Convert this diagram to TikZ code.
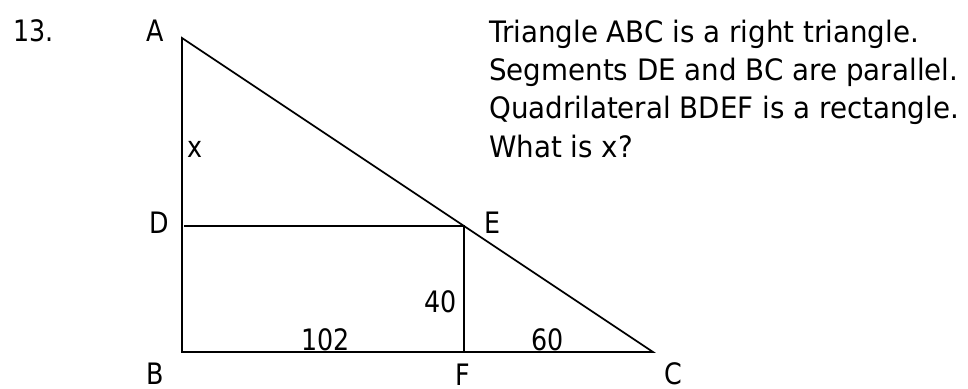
\documentclass[tikz,border=0pt]{standalone}
\usepackage{fontspec}
\setmainfont{DejaVu Sans}[FakeStretch=0.86]
\newfontfamily\paratext{DejaVu Sans}[FakeStretch=0.94]
\begin{document}
\begin{tikzpicture}[x=1pt,y=-1pt,
  lbl/.style={anchor=base west,inner sep=0pt,font=\fontsize{29.5}{38}\selectfont},
  para/.style={lbl,font=\fontsize{29.5}{38}\paratext},
  edge/.style={line width=1.8pt,line join=miter}]
\useasboundingbox (0,0) rectangle (968,388);
\coordinate (A) at (182,38);
\coordinate (B) at (182,352);
\coordinate (C) at (653,352);
\coordinate (D) at (184,226);
\coordinate (E) at (464,226);
\coordinate (F) at (464,352);
\draw[edge] (A) -- (B) -- (C) -- cycle;
\draw[edge] (D) -- (E) -- (F);
\node[lbl] (n13) at (13,41) {13.};
\node[lbl] (lA) at (146,41) {A};
\node[lbl] (lx) at (187,157) {x};
\node[lbl] (lD) at (149,233) {D};
\node[lbl] (lE) at (484,233) {E};
\node[lbl] (l40) at (424,312) {40};
\node[lbl] (l102) at (301,350) {102};
\node[lbl] (l60) at (531,350) {60};
\node[lbl] (lB) at (146,384) {B};
\node[lbl] (lF) at (455,385) {F};
\node[lbl] (lC) at (664,384) {C};
\node[para] (t1) at (489,42) {Triangle ABC is a right triangle.};
\node[para] (t2) at (489,80) {Segments DE and BC are parallel.};
\node[para] (t3) at (489,118) {Quadrilateral BDEF is a rectangle.};
\node[para] (t4) at (489,157) {What is x?};
\end{tikzpicture}
\end{document}
